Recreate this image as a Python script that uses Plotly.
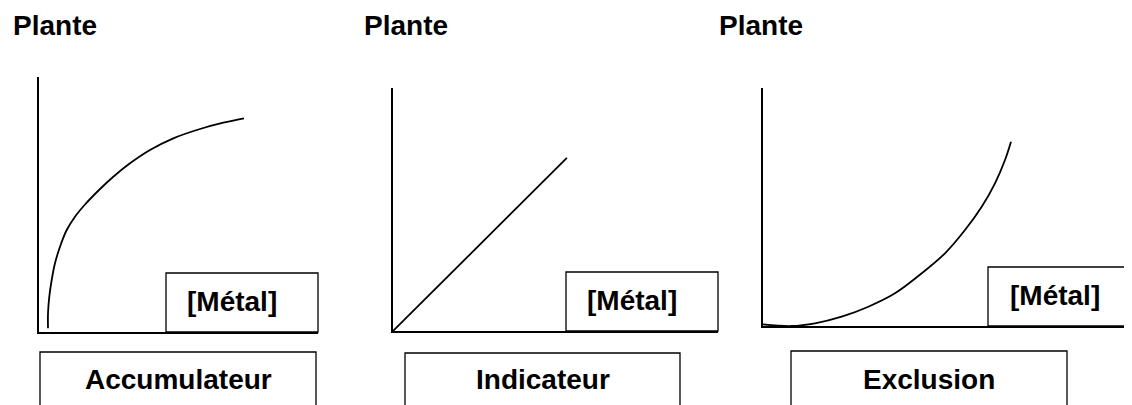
import plotly.graph_objects as go

W, H = 1132, 405
OFF = 8  # page body margin compensation

# ---- data (arbitrary units, 0-100 on each axis) ----
panel_titles = ["Accumulateur", "Indicateur", "Exclusion"]
y_label = "Plante"
x_label = "[Métal]"

acc_x = [3.23, 3.23, 3.69, 4.55, 5.73, 7.53, 9.93, 12.90, 16.49, 21.51, 26.63,
         32.62, 39.78, 48.14, 57.71, 66.06, 73.48]
acc_y = [1.45, 7.33, 13.84, 20.39, 26.94, 33.45, 40.0, 45.22, 50.0, 55.69, 60.9,
         66.16, 71.37, 75.96, 79.61, 82.08, 83.8]

ind_x = [0.0, 53.5]
ind_y = [0.0, 71.2]

exc_x = [0.0, 7.78, 14.09, 21.33, 28.54, 35.77, 43.01, 49.32, 54.74, 59.27, 62.87, 65.58, 67.21]
exc_y = [0.71, 0.0, 1.13, 3.91, 8.11, 13.74, 22.14, 30.55, 40.34, 50.13, 59.96, 69.75, 77.44]

series = [(acc_x, acc_y), (ind_x, ind_y), (exc_x, exc_y)]

# ---- layout geometry (pixels) ----
panel_px = [  # x0, x1, ytop, ybottom
    (39, 318, 77, 332),
    (393, 718, 88, 331),
    (763, 1132, 88, 326),
]
plante_left = [11, 362, 717]
metal_boxes = [(166, 318, 273, 332), (566, 718, 272, 331), (988, 1150, 267, 326)]
metal_text_x = [232, 632, 1055]
title_boxes = [(40, 316, 352, 440), (405, 680, 353, 440), (791, 1067, 351, 440)]

FONT = "Arial, Liberation Sans, sans-serif"
FS = 28


def px(x):
    return (x - OFF) / W


def py(y):
    return 1 - (y - OFF) / H


fig = go.Figure()
layout = dict(
    width=W, height=H, margin=dict(l=0, r=0, t=0, b=0),
    paper_bgcolor="white", plot_bgcolor="white", showlegend=False,
)
shapes, annotations = [], []

for i, ((xs, ys), (x0, x1, yt, yb)) in enumerate(zip(series, panel_px)):
    n = "" if i == 0 else str(i + 1)
    fig.add_trace(go.Scatter(
        x=xs, y=ys, mode="lines",
        line=dict(color="black", width=1.8, shape="spline", smoothing=1.0, simplify=False),
        xaxis="x" + n, yaxis="y" + n, hoverinfo="skip",
    ))
    ax = dict(domain=[px(x0), min(px(x1), 1.0)], range=[0, 100], showgrid=False, zeroline=False,
              showticklabels=False, ticks="", showline=True, linecolor="black", linewidth=2,
              fixedrange=True, anchor="y" + n)
    ay = dict(domain=[py(yb), py(yt)], range=[0, 100], showgrid=False, zeroline=False,
              showticklabels=False, ticks="", showline=True, linecolor="black", linewidth=2,
              fixedrange=True, anchor="x" + n)
    layout["xaxis" + n] = ax
    layout["yaxis" + n] = ay

    # [Métal] box
    bx0, bx1, by0, by1 = metal_boxes[i]
    shapes.append(dict(type="rect", xref="paper", yref="paper",
                       x0=px(bx0), x1=px(bx1), y0=py(by1), y1=py(by0),
                       line=dict(color="black", width=1.3), fillcolor="white", layer="above"))
    annotations.append(dict(xref="paper", yref="paper", x=px(metal_text_x[i]),
                            y=py((by0 + by1) / 2 - 1), text="<b>%s</b>" % x_label, showarrow=False,
                            xanchor="center", yanchor="middle",
                            font=dict(family=FONT, size=FS, color="black")))

    # title box
    tx0, tx1, ty0, ty1 = title_boxes[i]
    shapes.append(dict(type="rect", xref="paper", yref="paper",
                       x0=px(tx0), x1=px(tx1), y0=py(ty1), y1=py(ty0),
                       line=dict(color="black", width=1.3), fillcolor="white"))
    annotations.append(dict(xref="paper", yref="paper", x=px((tx0 + tx1) / 2),
                            y=py(379), text="<b>%s</b>" % panel_titles[i], showarrow=False,
                            xanchor="center", yanchor="middle",
                            font=dict(family=FONT, size=FS, color="black")))

    # Plante label
    annotations.append(dict(xref="paper", yref="paper", x=px(plante_left[i]), y=py(26),
                            text="<b>%s</b>" % y_label, showarrow=False,
                            xanchor="left", yanchor="middle",
                            font=dict(family=FONT, size=FS, color="black")))

layout["shapes"] = shapes
layout["annotations"] = annotations
fig.update_layout(**layout)
fig.write_html("out.html")
